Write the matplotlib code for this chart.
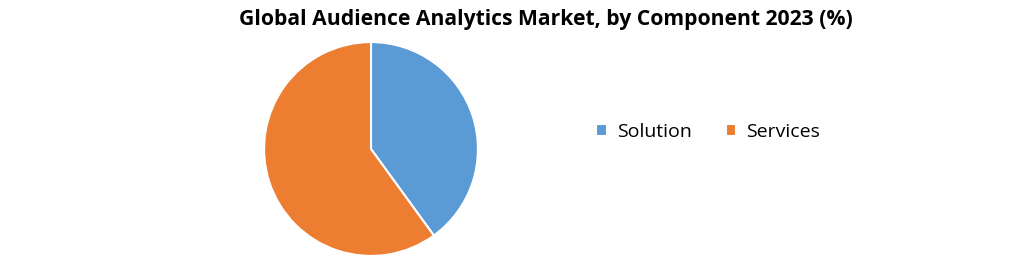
import matplotlib.pyplot as plt

labels = ['Solution', 'Services']
shares = [40, 60]
colors = ['#5B9BD5', '#ED7D31']

plt.rcParams['font.family'] = ['Open Sans', 'DejaVu Sans']

fig = plt.figure(figsize=(10.2, 2.57), dpi=100)
ax = fig.add_axes([263 / 1020, 0.0, 216 / 1020, 216 / 257])
wedges, _ = ax.pie(shares, colors=colors, startangle=90, counterclock=False,
                   wedgeprops=dict(edgecolor='white', linewidth=1.5))
ax.set_xlim(-1.01, 1.01)
ax.set_ylim(-1.01, 1.01)
ax.set_aspect('equal')

fig.text(546 / 1020, 1 - 20 / 257, 'Global Audience Analytics Market, by Component 2023 (%)',
         ha='center', va='center', fontsize=15.2, fontweight='bold')

fig.legend(wedges, labels, loc='center', bbox_to_anchor=(708 / 1020, 1 - 132 / 257),
           ncol=2, frameon=False, fontsize=14, handlelength=0.55, handleheight=0.55,
           handletextpad=0.5, columnspacing=1.75)

fig.savefig('out.png', dpi=100)
